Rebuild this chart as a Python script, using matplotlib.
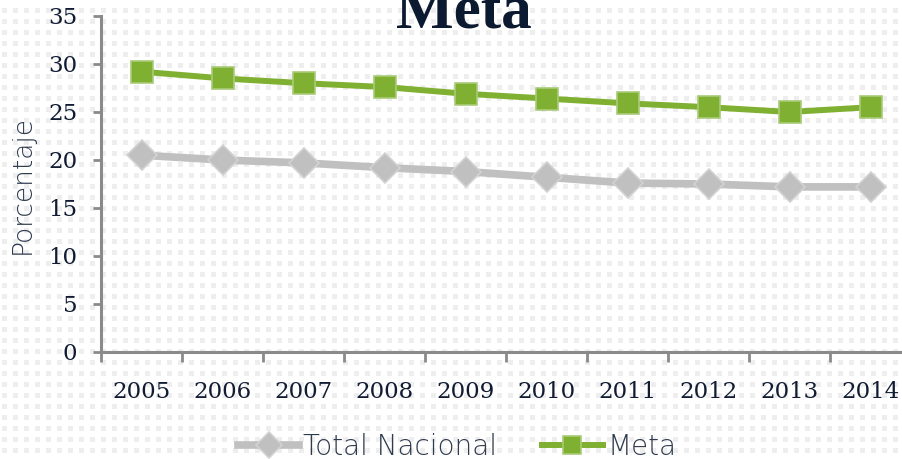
import numpy as np
import matplotlib
matplotlib.use('Agg')
import matplotlib.pyplot as plt

# ── Data ──────────────────────────────────────────────────────────────────────
years        = ['2005', '2006', '2007', '2008', '2009', '2010', '2011', '2012', '2013', '2014']
total_nac    = [20.5, 20.0, 19.7, 19.2, 18.8, 18.2, 17.6, 17.5, 17.2, 17.2]
meta         = [29.2, 28.5, 28.0, 27.6, 26.9, 26.4, 25.9, 25.5, 25.0, 25.5]
y_ticks      = [0, 5, 10, 15, 20, 25, 30, 35]

GREEN  = '#80b031'
GRAY   = '#c0c0c0'
NAVY   = '#111c33'
SPINE  = '#8a8a8a'
SOFT   = '#2e3b4e'

W, H = 902, 459
fig = plt.figure(figsize=(W / 100, H / 100), dpi=100, facecolor='white')

# ── Dotted background ─────────────────────────────────────────────────────────
bg = np.ones((H, W, 3))
for yy in range(8 % 11, H, 11):
    for xx in range(2 % 11, W, 11):
        bg[yy:yy + 5, xx:xx + 5] = 0.935
bgax = fig.add_axes([0, 0, 1, 1], zorder=-1)
bgax.imshow(bg, aspect='auto', interpolation='nearest')
bgax.axis('off')

# ── Axes ──────────────────────────────────────────────────────────────────────
left, bottom = 101 / W, (H - 352) / H
ax = fig.add_axes([left, bottom, 810 / W, 336 / H], zorder=1)
ax.set_facecolor('none')
x = np.arange(len(years))

ax.plot(x, total_nac, color=GRAY, lw=5.5, marker='D', ms=15.5,
        mfc=GRAY, mec='#d2d2d2', mew=1.2, label='Total Nacional', zorder=3)
ax.plot(x, meta, color=GREEN, lw=4.3, marker='s', ms=15.5,
        mfc=GREEN, mec='#a9cb78', mew=1.2, label='Meta', zorder=4)

ax.set_xlim(-0.5, len(years) - 0.5)
ax.set_ylim(0, 35)
ax.set_yticks(y_ticks)
ax.set_yticklabels([str(v) for v in y_ticks], fontsize=16.5,
                   family='DejaVu Serif', color=NAVY)

# category boundary ticks + centred labels
ax.set_xticks(np.arange(len(years) + 1) - 0.5)
ax.set_xticklabels([])
ax.set_xticks(x, minor=True)
ax.set_xticklabels(years, minor=True, fontsize=16.5, family='DejaVu Serif', color=NAVY)
ax.tick_params(axis='x', which='major', length=7, width=2, color=SPINE, direction='out')
ax.tick_params(axis='x', which='minor', length=0, pad=21)
ax.tick_params(axis='y', length=6, width=2, color=SPINE, direction='out', pad=11)

for s in ['top', 'right']:
    ax.spines[s].set_visible(False)
for s in ['left', 'bottom']:
    ax.spines[s].set_color(SPINE)
    ax.spines[s].set_linewidth(2.2)

ax.set_ylabel('Porcentaje', fontsize=19, color=SOFT, fontweight='light', labelpad=10)

# ── Title (cut at top edge) ───────────────────────────────────────────────────
fig.text(464 / W, (H - 27) / H, 'Meta', ha='center', va='baseline',
         fontsize=44, fontweight='bold', family='Liberation Serif', color='#0b1a30')

# ── Legend ────────────────────────────────────────────────────────────────────
leg = ax.legend(loc='center', bbox_to_anchor=(457 / W, 12 / H),
                bbox_transform=fig.transFigure, ncol=2,
                frameon=False, handlelength=2.2, columnspacing=1.6,
                handletextpad=0.15, markerscale=0.85,
                prop={'size': 20, 'weight': 'light'})
for t in leg.get_texts():
    t.set_color(SOFT)

fig.savefig('out.png', dpi=100, facecolor='white')
